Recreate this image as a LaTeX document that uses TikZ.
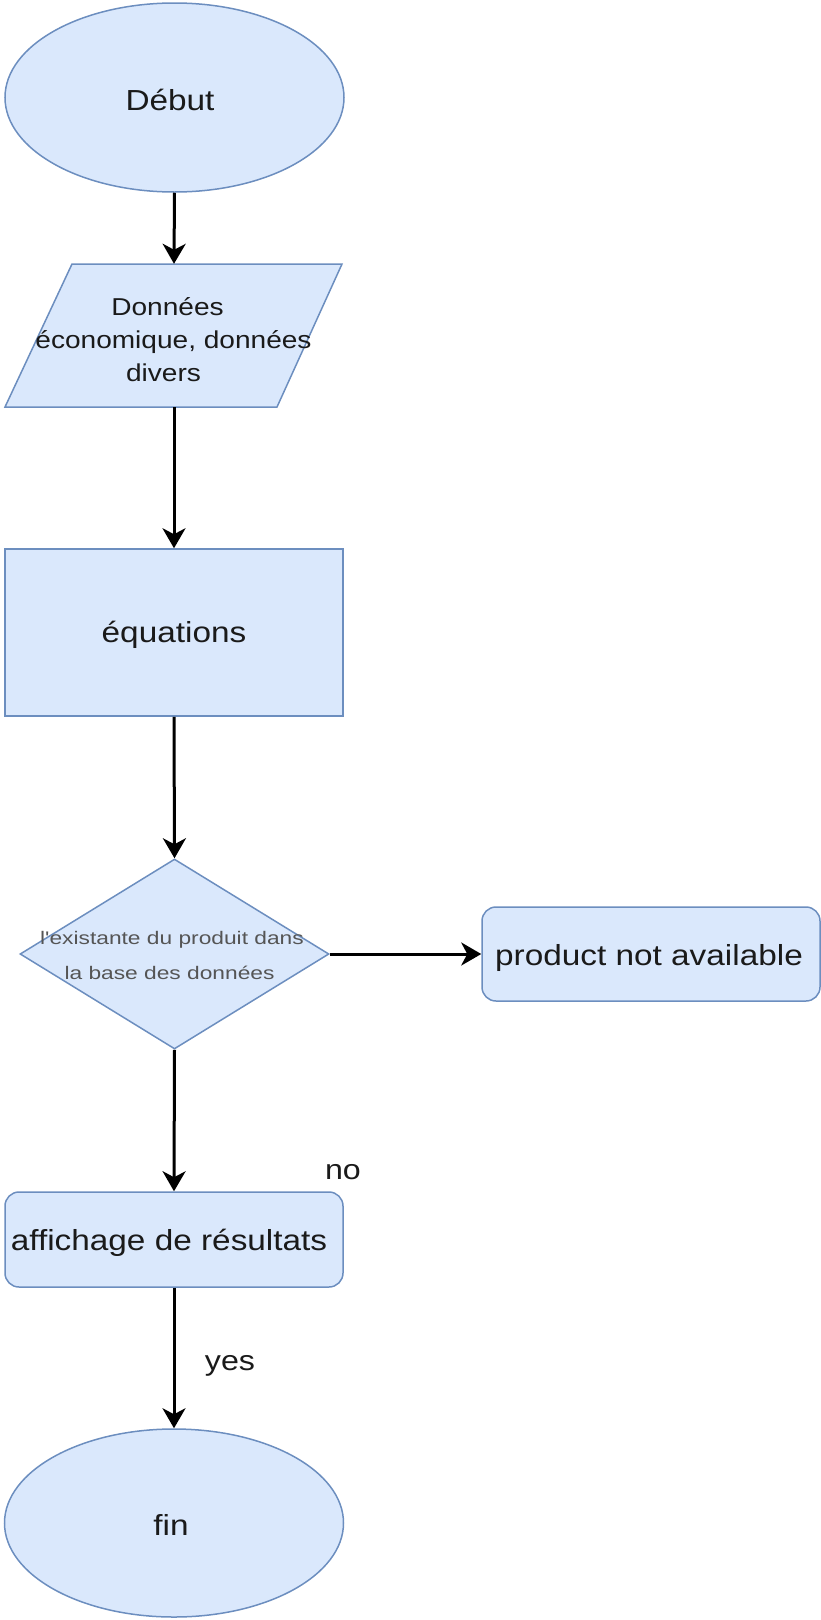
\documentclass[tikz,border=0pt]{standalone}
\usepackage{fontspec}
\setmainfont{Liberation Sans}[FakeStretch=1.15]
\newfontfamily\wideparfont{Liberation Sans}[FakeStretch=1.15]
\newfontfamily\widedecfont{Liberation Sans}[FakeStretch=1.25]
\usetikzlibrary{shapes.geometric,arrows.meta}
\definecolor{boxfill}{HTML}{DAE8FC}
\definecolor{boxdraw}{HTML}{6C8EBF}
\definecolor{txt}{HTML}{1A1A1A}
\definecolor{dtxt}{HTML}{555555}
\newcommand{\lowerby}[2]{\raisebox{-#1}[\height][\depth]{#2}}
\begin{document}
\begin{tikzpicture}[x=1pt,y=-1pt,
  shapebox/.style={draw=boxdraw,fill=boxfill,line width=1.5pt,text=txt,inner sep=0pt},
  termnode/.style={shapebox,ellipse,minimum width=339pt,minimum height=189pt,font=\fontsize{29}{35}\selectfont},
  rectnode/.style={shapebox,rectangle,minimum width=338pt,font=\fontsize{29}{35}\selectfont},
  roundnode/.style={rectnode,rounded corners=14pt},
  flow/.style={draw=black,line width=3pt,-{Stealth[length=20pt,width=23pt,inset=6pt]}},
  lbl/.style={text=txt,font=\fontsize{28}{34}\selectfont,inner sep=0pt}
]
\useasboundingbox (0,0) rectangle (821,1620);

\node[termnode] (start) at (174.5,97.5) {\lowerby{2pt}{Début\hspace*{9pt}}};

\coordinate (pA) at (72,264);
\coordinate (pB) at (342,264);
\coordinate (pC) at (277,407);
\coordinate (pD) at (5,407);
\draw[draw=boxdraw,fill=boxfill,line width=1.5pt] (pA) -- (pB) -- (pC) -- (pD) -- cycle;
\node[minimum width=200pt,minimum height=143pt,inner sep=0pt] (data) at (174,335.5) {};
\node[inner sep=0pt,align=center,text=txt,font=\wideparfont\fontsize{24.4}{33}\selectfont] (datatext) at (173.5,339.5)
  {Données\hspace*{12pt}\\économique, données\\divers\hspace*{20pt}};

\node[rectnode,minimum height=167pt] (eq) at (174,632.5) {\lowerby{2pt}{équations}};

\node[shapebox,diamond,minimum width=309pt,minimum height=190pt] (dec) at (174.5,954) {};
\node[align=center,text=dtxt,inner sep=0pt,font=\widedecfont\fontsize{18.2}{35}\selectfont] (dectext) at (172,955)
  {l'existante du produit dans\\la base des données\hspace*{5pt}};

\node[roundnode,minimum height=94pt] (prod) at (651,954) {\lowerby{4pt}{product not available\hspace*{4pt}}};

\node[roundnode,minimum height=95pt] (aff) at (174,1239.5) {\lowerby{3pt}{affichage de résultats\hspace*{10pt}}};

\node[termnode,minimum height=188pt] (fin) at (174,1523) {\lowerby{2pt}{fin\hspace*{6pt}}};

\node[lbl] (no) at (343,1172) {no};
\node[lbl] (yes) at (230,1366) {yes};

\draw[flow] (start.south) -- (data.north);
\draw[flow] (data.south) -- (eq.north);
\draw[flow] (eq.south) -- (dec.north);
\draw[flow] (dec.east) -- (prod.west);
\draw[flow] (dec.south) -- (aff.north);
\draw[flow] (aff.south) -- (fin.north);
\end{tikzpicture}
\end{document}
